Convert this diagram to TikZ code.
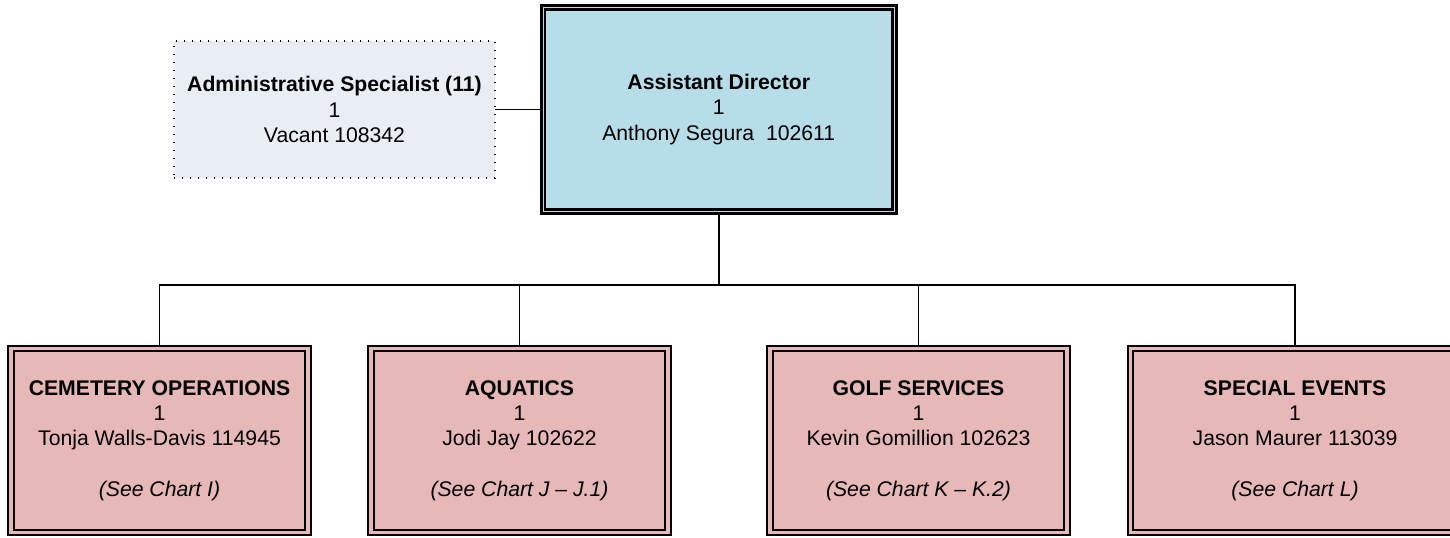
\documentclass[tikz,border=0pt]{standalone}
\usepackage{fontspec}
\setmainfont{Liberation Sans}
\usetikzlibrary{positioning}
\definecolor{headblue}{RGB}{183,221,232}
\definecolor{adminfill}{RGB}{233,237,244}
\definecolor{unitpink}{RGB}{230,184,183}

\begin{document}
\begin{tikzpicture}[x=0.5pt,y=-0.5pt,
        every node/.style={font=\fontsize{10.6}{12.6}\selectfont, align=center, inner sep=0pt},
        head/.style={draw, line width=1.45pt, double=headblue, double distance=0.5pt, fill=headblue, outer sep=1.7pt, minimum width=175.75pt, minimum height=102pt},
        admin/.style={draw, line width=0.7pt, dash pattern=on 0.7pt off 3.3pt, fill=adminfill, outer sep=0pt, minimum width=160.5pt, minimum height=68.5pt},
        unit/.style={draw, line width=1pt, double=unitpink, double distance=1.6pt, fill=unitpink, outer sep=1.8pt, minimum width=148.5pt, minimum height=92pt},
        link/.style={line width=0.9pt}]
        \useasboundingbox (0,0) rectangle (1450,537);
        \clip (0,0) rectangle (1450,537);
        \node[head] (AD) at (718.75,109.5) {\textbf{Assistant Director}\\1\\Anthony Segura~ 102611};
        \node[admin, left=22.3pt of AD] (AS) {\textbf{Administrative Specialist (11)}\\1\\Vacant 108342};
        
        \node[unit] (CEM) at (159.5,440.5) {\textbf{CEMETERY OPERATIONS}\\1\\Tonja Walls-Davis 114945\\[12.6pt]\textit{(See Chart I)}};
        \node[unit, right=27.9pt of CEM] (AQU) {\textbf{AQUATICS}\\1\\Jodi Jay 102622\\[12.6pt]\textit{(See Chart J – J.1)}};
        \node[unit, right=47.4pt of AQU] (GOLF) {\textbf{GOLF SERVICES}\\1\\Kevin Gomillion 102623\\[12.6pt]\textit{(See Chart K – K.2)}};
        \node[unit, right=28.15pt of GOLF, minimum width=164.5pt] (SPEC) {\textbf{SPECIAL EVENTS}\\1\\Jason Maurer 113039\\[12.6pt]\textit{(See Chart L)}};
        
        \coordinate (bus) at (718.75,285);
        \draw[link] (AS) -- (AS -| AD.west);
        \foreach \u in {CEM,AQU,GOLF,SPEC}
            \draw[link] (AD.south) -- (AD.south |- bus) -| (\u.north);
\end{tikzpicture}
\end{document}
